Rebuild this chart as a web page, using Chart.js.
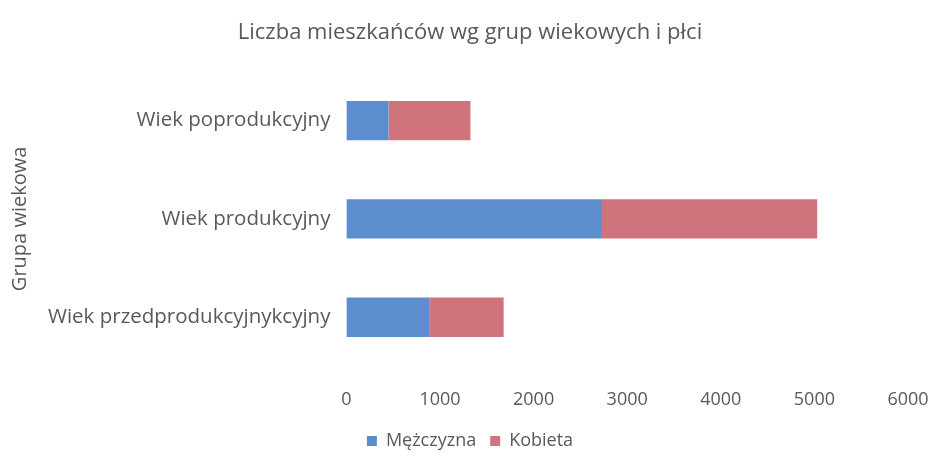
<!DOCTYPE html>
<html>
<head>
<meta charset="utf-8">
<script src="https://cdn.jsdelivr.net/npm/chart.js@4"></script>
<style>
  html, body { margin: 0; padding: 0; background: #fff; }
  #wrap { width: 936px; height: 457px; }
</style>
</head>
<body>
<div id="wrap"><canvas id="chart"></canvas></div>
<script>
// Data
const categories = ['Wiek poprodukcyjny', 'Wiek produkcyjny', 'Wiek przedprodukcyjnykcyjny'];
const mezczyzna = [450, 2730, 890];
const kobieta = [875, 2300, 790];
const xTicks = [0, 1000, 2000, 3000, 4000, 5000, 6000];

const textColor = '#595959';
const fontFamily = "'Open Sans', 'Noto Sans', sans-serif";

new Chart(document.getElementById('chart'), {
    type: 'bar',
    data: {
        labels: categories,
        datasets: [
            { label: 'Mężczyzna', data: mezczyzna, backgroundColor: '#5b8dcf' },
            { label: 'Kobieta', data: kobieta, backgroundColor: '#d1737c' }
        ]
    },
    options: {
        indexAxis: 'y',
        responsive: true,
        maintainAspectRatio: false,
        animation: false,
        layout: { padding: { left: 4, right: 0, top: 4, bottom: -3 } },
        barPercentage: 0.4,
        categoryPercentage: 1,
        plugins: {
            title: {
                display: true,
                text: 'Liczba mieszkańców wg grup wiekowych i płci',
                color: textColor,
                font: { family: fontFamily, size: 22, weight: 'normal' },
                padding: { top: 16, bottom: 25 }
            },
            legend: {
                position: 'bottom',
                labels: {
                    color: textColor,
                    font: { family: fontFamily, size: 18 },
                    boxWidth: 10,
                    boxHeight: 10,
                    padding: 14
                }
            },
            tooltip: { enabled: false }
        },
        scales: {
            x: {
                stacked: true,
                min: 0,
                max: 6000,
                afterBuildTicks: (axis) => { axis.ticks = xTicks.map(v => ({ value: v })); },
                afterFit: (axis) => { axis.height -= 16; axis.paddingRight = 28; },
                grid: { display: false, drawTicks: false },
                border: { display: false },
                ticks: {
                    color: textColor,
                    font: { family: fontFamily, size: 18 },
                    padding: 23,
                    callback: (v) => String(v)
                }
            },
            y: {
                stacked: true,
                grid: { display: false, drawTicks: false },
                border: { display: false },
                title: {
                    display: true,
                    text: 'Grupa wiekowa',
                    color: textColor,
                    font: { family: fontFamily, size: 20 },
                    padding: { top: 4, bottom: 0 }
                },
                ticks: {
                    color: textColor,
                    font: { family: fontFamily, size: 20.5 },
                    padding: 16
                }
            }
        }
    }
});
</script>
</body>
</html>
